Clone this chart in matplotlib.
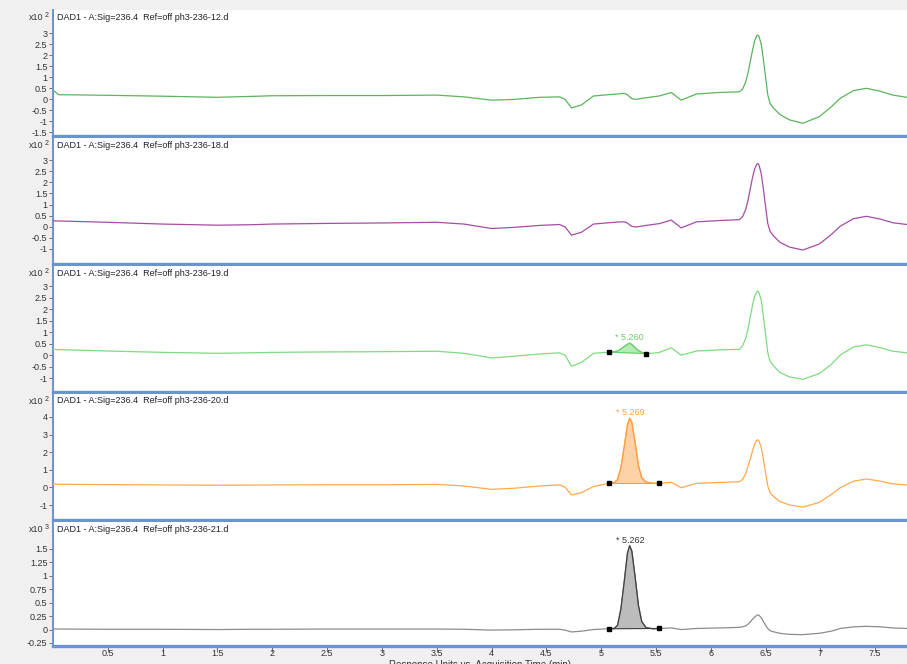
import matplotlib
matplotlib.use("Agg")
import matplotlib.pyplot as plt
import numpy as np

plt.rcParams['font.family'] = ['Liberation Sans', 'DejaVu Sans']
plt.rcParams['axes.unicode_minus'] = False

# acquisition time (min), shared by all the traces
time_min = [0.00, 0.05, 0.5, 1.0, 1.5, 1.8, 2.0, 2.5,
            3.0, 3.5, 3.75, 4.0, 4.2, 4.44, 4.62, 4.67,
            4.73, 4.82, 4.93, 5.07, 5.12, 5.15, 5.18, 5.21,
            5.24, 5.26, 5.28, 5.31, 5.34, 5.37, 5.41, 5.47,
            5.53, 5.64, 5.73, 5.87, 6.08, 6.26, 6.29, 6.32,
            6.34, 6.36, 6.38, 6.40, 6.42, 6.43, 6.44, 6.46,
            6.48, 6.50, 6.52, 6.54, 6.57, 6.63, 6.72, 6.84,
            6.99, 7.10, 7.18, 7.30, 7.42, 7.55, 7.66, 7.79]

# response, x10^2 (ph3-236-12 .. 20) and x10^3 (ph3-236-21)
sig_12 = [0.41, 0.20, 0.17, 0.13, 0.08, 0.12, 0.15, 0.16,
          0.16, 0.18, 0.10, -0.05, -0.02, 0.08, 0.10, -0.01,
          -0.40, -0.27, 0.14, 0.20, 0.22, 0.23, 0.25, 0.26,
          0.20, 0.10, 0.02, -0.01, 0.00, 0.03, 0.06, 0.10,
          0.14, 0.30, -0.05, 0.23, 0.30, 0.33, 0.45, 0.80,
          1.20, 1.70, 2.20, 2.65, 2.88, 2.91, 2.85, 2.50,
          1.80, 1.00, 0.20, -0.20, -0.40, -0.70, -0.95, -1.10,
          -0.80, -0.35, 0.03, 0.38, 0.49, 0.35, 0.18, 0.08]

sig_18 = [0.27, 0.26, 0.20, 0.12, 0.07, 0.09, 0.12, 0.15,
          0.17, 0.20, 0.12, -0.08, -0.03, 0.06, 0.10, 0.00,
          -0.38, -0.25, 0.12, 0.18, 0.20, 0.21, 0.22, 0.22,
          0.17, 0.08, 0.02, -0.01, 0.00, 0.03, 0.06, 0.10,
          0.14, 0.30, -0.05, 0.22, 0.28, 0.32, 0.45, 0.80,
          1.20, 1.70, 2.20, 2.60, 2.82, 2.85, 2.78, 2.40,
          1.70, 0.90, 0.15, -0.20, -0.40, -0.70, -0.92, -1.05,
          -0.78, -0.35, 0.02, 0.36, 0.47, 0.34, 0.18, 0.10]

sig_19 = [0.25, 0.24, 0.18, 0.12, 0.08, 0.10, 0.12, 0.14,
          0.15, 0.17, 0.08, -0.12, -0.05, 0.05, 0.10, 0.00,
          -0.48, -0.32, 0.08, 0.13, 0.15, 0.18, 0.26, 0.37,
          0.47, 0.52, 0.46, 0.32, 0.20, 0.12, 0.07, 0.08,
          0.12, 0.32, 0.00, 0.18, 0.23, 0.25, 0.40, 0.75,
          1.15, 1.65, 2.15, 2.55, 2.75, 2.78, 2.72, 2.40,
          1.70, 0.90, 0.10, -0.25, -0.45, -0.75, -0.95, -1.05,
          -0.80, -0.40, 0.00, 0.35, 0.45, 0.32, 0.17, 0.10]

sig_20 = [0.19, 0.18, 0.16, 0.14, 0.12, 0.13, 0.14, 0.15,
          0.15, 0.17, 0.08, -0.11, -0.05, 0.08, 0.14, 0.02,
          -0.43, -0.30, 0.05, 0.23, 0.27, 0.45, 1.10, 2.30,
          3.55, 3.93, 3.70, 2.55, 1.25, 0.55, 0.30, 0.24,
          0.23, 0.29, -0.02, 0.23, 0.28, 0.32, 0.45, 0.80,
          1.20, 1.60, 2.05, 2.45, 2.68, 2.70, 2.62, 2.30,
          1.60, 0.80, 0.10, -0.30, -0.50, -0.80, -1.00, -1.12,
          -0.85, -0.40, -0.02, 0.35, 0.48, 0.35, 0.20, 0.14]

sig_21 = [0.010, 0.010, 0.005, 0.005, 0.000, 0.005, 0.005, 0.010,
          0.010, 0.010, 0.005, -0.010, -0.005, 0.005, 0.005, -0.010,
          -0.045, -0.030, 0.000, 0.015, 0.020, 0.080, 0.380, 0.880,
          1.420, 1.560, 1.460, 0.980, 0.450, 0.150, 0.035, 0.015,
          0.020, 0.030, 0.000, 0.020, 0.030, 0.040, 0.050, 0.070,
          0.100, 0.140, 0.190, 0.230, 0.265, 0.270, 0.265, 0.220,
          0.150, 0.080, 0.020, -0.020, -0.040, -0.070, -0.090, -0.095,
          -0.070, -0.030, 0.020, 0.050, 0.060, 0.050, 0.030, 0.020]

file_names = ["ph3-236-12.d", "ph3-236-18.d", "ph3-236-19.d", "ph3-236-20.d", "ph3-236-21.d"]
exponents = [2, 2, 2, 2, 3]
peak_rt = [None, None, 5.260, 5.269, 5.262]
peak_limits = [None, None, (5.07, 5.41), (5.07, 5.53), (5.07, 5.53)]

line_colors = ['#5cb45c', '#a64ca6', '#80da80', '#ffa94f', '#8c8c8c']
fill_colors = [None, None, '#b5ebb5', '#fdd2a6', '#bcbcbc']
label_colors = [None, None, '#6ccc6c', '#ffa040', '#333333']
edge_colors = [None, None, '#6ccc6c', '#ffa040', '#404040']

ylims = [(-1.68, 4.05), (-1.68, 4.0), (-1.6, 3.87), (-1.85, 5.3), (-0.306, 2.0)]
yticks = [np.arange(-1.5, 3.01, 0.5), np.arange(-1, 3.01, 0.5), np.arange(-1, 3.01, 0.5),
          np.arange(-1, 4.01, 1), np.arange(-0.25, 1.51, 0.25)]

traces = [sig_12, sig_18, sig_19, sig_20, sig_21]

W, H = 907, 664
BLUE = '#6a92d4'
fig = plt.figure(figsize=(W / 100, H / 100), dpi=100, facecolor='#f0f0f0')

#panel boundaries in pixels (from the top of the picture)
tops = [10, 138, 266, 394, 522]
bottoms = [136, 264, 392, 520, 646]
left_px = 53

t = np.array(time_min)
for i in range(5):
    ax = fig.add_axes([left_px / W, 1 - bottoms[i] / H, (W - left_px) / W, (bottoms[i] - tops[i]) / H])
    ax.set_facecolor('white')
    y = np.array(traces[i])
    ax.plot(t, y, color=line_colors[i], lw=0.9, zorder=3)

    if peak_limits[i] is not None:
        t0, t1 = peak_limits[i]
        y0, y1 = np.interp(t0, t, y), np.interp(t1, t, y)
        m = (t >= t0) & (t <= t1)
        tp = np.concatenate([[t0], t[m], [t1]])
        yp = np.concatenate([[y0], y[m], [y1]])
        base = y0 + (tp - t0) * (y1 - y0) / (t1 - t0)
        ax.fill_between(tp, base, yp, color=fill_colors[i], lw=0, zorder=2)
        ax.plot(tp, yp, color=edge_colors[i], lw=0.9, zorder=4)
        ax.plot([t0, t1], [y0, y1], color=edge_colors[i], lw=0.8, zorder=4)
        ax.plot([t0, t1], [y0, y1], ls='none', marker='s', ms=3.2, color='black', zorder=5)
        ytop = y.max() if i > 2 else y[m].max()
        ax.annotate("* %.3f" % peak_rt[i], (peak_rt[i], ytop), xytext=(0, 4), textcoords='offset points',
                    ha='center', va='center', fontsize=6.5, color=label_colors[i], zorder=6)

    ax.set_xlim(0, 7.79)
    ax.set_ylim(*ylims[i])
    ax.set_yticks(yticks[i])
    ax.set_yticklabels(["%g" % round(v, 2) for v in yticks[i]])
    ax.tick_params(axis='y', length=3, width=0.6, color='#555555', labelsize=6.5,
                   labelcolor='#333333', pad=1)

    for s in ['top', 'right']:
        ax.spines[s].set_visible(False)
    ax.spines['bottom'].set_color(BLUE)
    ax.spines['bottom'].set_linewidth(2.4)
    ax.spines['left'].set_color(BLUE)
    ax.spines['left'].set_linewidth(1.4)

    if i < 4:
        ax.set_xticks([])
    else:
        xt = np.arange(0.5, 7.51, 0.5)
        ax.set_xticks(xt)
        ax.set_xticklabels(["%g" % v for v in xt])
        ax.tick_params(axis='x', length=4, width=0.6, color='#555555', labelsize=6.5,
                       labelcolor='#333333', pad=-1.5)

    ax.text(4 / (W - left_px), 1 - 7 / (bottoms[i] - tops[i]),
            "DAD1 - A:Sig=236.4  Ref=off " + file_names[i],
            transform=ax.transAxes, ha='left', va='center', fontsize=6.5, color='#222222')

    #multiplier, in the grey strip at the left
    fig.text(43 / W, 1 - (tops[i] + 7) / H, "x10", ha='right', va='center', fontsize=6.5, color='#333333')
    fig.text(45 / W, 1 - (tops[i] + 5.5) / H, str(exponents[i]), ha='left', va='center', fontsize=5, color='#333333')

#axis title, cut at the bottom edge like in the instrument export
fig.text(480 / W, 1 - 659.5 / H, "Response Units vs. Acquisition Time (min)", ha='center', va='top',
         fontsize=7, color='#333333')

fig.savefig("out.png", dpi=100, facecolor=fig.get_facecolor())
